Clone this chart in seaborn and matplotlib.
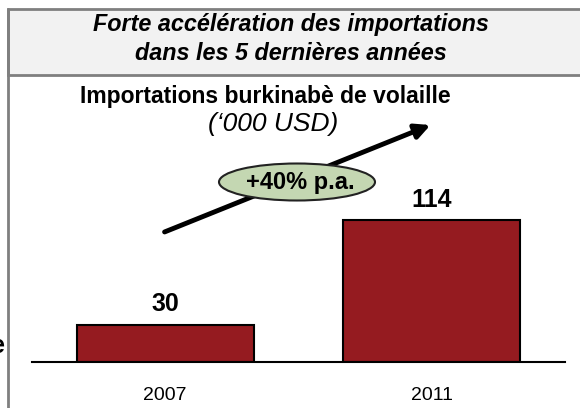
import numpy as np
import pandas as pd
import matplotlib.pyplot as plt
import matplotlib.patches as mpatches
import seaborn as sns

# data
years = ['2007', '2011']
imports = [30, 114]
growth_label = '+40% p.a.'
banner_lines = ['Forte accélération des importations', 'dans les 5 dernières années']
chart_title = 'Importations burkinabè de volaille'
chart_unit = '(‘000 USD)'

sns.set_style('white')
plt.rcParams['font.family'] = ['Liberation Sans', 'DejaVu Sans']
plt.rcParams['text.color'] = 'black'
plt.rcParams['xtick.color'] = 'black'

df = pd.DataFrame({'year': years, 'imports': imports})

fig = plt.figure(figsize=(5.8, 4.08), dpi=100)

# bar axes, placed in pixel terms of a 580x408 canvas
ax = fig.add_axes([32/580, 46/408, 533/580, 162/408])
sns.barplot(data=df, x='year', y='imports', color='#951b20', edgecolor='black',
            linewidth=1.5, width=0.665, saturation=1, ax=ax)
ax.set_xlim(-0.5, 1.5)
ax.set_ylim(0, 130)
ax.set_xlabel('')
ax.set_ylabel('')
ax.set_yticks([])
for s in ['left', 'right', 'top']:
    ax.spines[s].set_visible(False)
ax.spines['bottom'].set_color('black')
ax.spines['bottom'].set_linewidth(1.5)
ax.tick_params(axis='x', length=0, pad=18, labelsize=14)
ax.bar_label(ax.containers[0], padding=6, fontsize=18, fontweight='bold')
ax.patch.set_alpha(0)

# overlay in pixel coordinates for frame and annotations
ov = fig.add_axes([0, 0, 1, 1], zorder=5)
ov.set_xlim(0, 580)
ov.set_ylim(408, 0)
ov.axis('off')
ov.patch.set_alpha(0)

ov.add_patch(mpatches.Rectangle((8, 9), 600, 66, fc='#f2f2f2', ec='#7f7f7f', lw=2))
ov.plot([8, 8], [9, 410], color='#7f7f7f', lw=2)
ov.text(291, 25, banner_lines[0], ha='center', va='center', fontsize=16.8,
        fontweight='bold', fontstyle='italic')
ov.text(291, 53, banner_lines[1], ha='center', va='center', fontsize=16.8,
        fontweight='bold', fontstyle='italic')
ov.text(265, 97, chart_title, ha='center', va='center', fontsize=16.5, fontweight='bold')
ov.text(273, 124, chart_unit, ha='center', va='center', fontsize=19, fontstyle='italic')

ov.annotate('', xy=(433, 124), xytext=(162, 233),
            arrowprops=dict(arrowstyle='-|>', lw=3.5, color='black', mutation_scale=22))
ov.add_patch(mpatches.Ellipse((297, 182), 156, 37, fc='#c4d7b2', ec='#222222', lw=1.5, zorder=3))
ov.text(300, 182, growth_label, ha='center', va='center', fontsize=17,
        fontweight='bold', zorder=4)

# clipped letter from the neighbouring panel
ov.text(5, 346, 'e', ha='right', va='center', fontsize=18, fontweight='bold')

fig.savefig('out.png', dpi=100)
